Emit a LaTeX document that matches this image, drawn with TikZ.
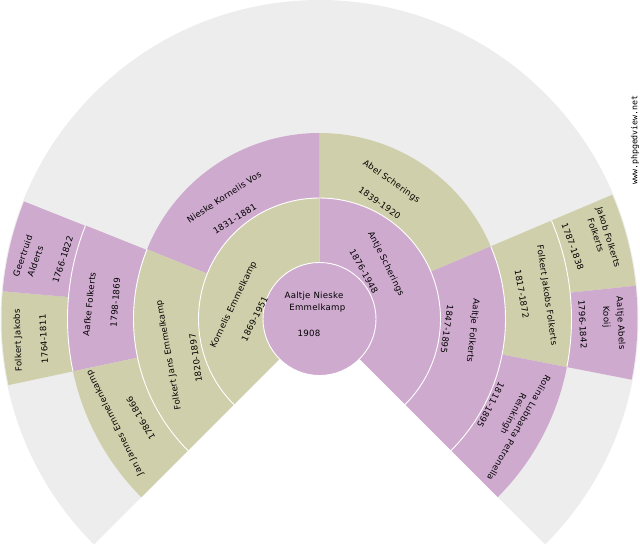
\documentclass[tikz,border=0pt]{standalone}
\usepackage{fontspec}
\setmainfont[LetterSpace=3]{DejaVu Sans}
\setmonofont{DejaVu Sans Mono}
\definecolor{pur}{HTML}{CFAACF}
\definecolor{oli}{HTML}{D0CFAB}
\definecolor{gry}{HTML}{EDEDED}
\tikzset{
  lab/.style={inner sep=0pt,outer sep=0pt,text=black,font=\fontsize{8.6}{10}\selectfont},
  sep/.style={draw=white,line width=0.9pt},
}
\newcommand{\sect}[5]{\fill[#1] ([shift={(#4:#3)}]319.5,231) arc (#4:#5:#3) -- ([shift={(#5:#2)}]319.5,231) arc (#5:#4:#2) -- cycle;}
\newcommand{\sep}[3]{\draw[sep] ([shift={(#2:#1)}]319.5,231) arc (#2:#3:#1);}
\newcommand{\tx}[5]{\node[lab,rotate=#4] (#1) at (#2,{550-#3}) {#5};}
\begin{document}
\begin{tikzpicture}[x=1pt,y=1pt]
\useasboundingbox (0,0) rectangle (640,550);
\fill[gry] (319.5,231) -- ([shift={(225:319)}]319.5,231) arc (225:-45:319) -- cycle;
% ring 4
\sect{oli}{252}{318}{6}{23}
\sect{pur}{252}{318}{-11}{6}
\sect{oli}{252}{318}{175}{192}
\sect{pur}{252}{318}{158.3}{175}
% ring 3
\sect{oli}{186}{252}{-11}{23}
\sect{pur}{186}{252}{-45}{-11}
\sect{pur}{186}{252}{158.2}{192}
\sect{oli}{186}{252}{192}{225}
% ring 2
\sect{oli}{121}{186}{23}{90}
\sect{pur}{121}{186}{-45}{23}
\sect{pur}{121}{186}{90}{158}
\sect{oli}{121}{186}{158}{225}
% ring 1
\sect{pur}{56}{121}{-45}{90}
\sect{oli}{56}{121}{90}{225}
% separators
\sep{252}{-11}{23}
\sep{252}{158.2}{192}
\sep{186}{-45}{23}
\sep{186}{158}{225}
\sep{121}{-45}{225}
\fill[pur,draw=white,line width=0.9pt] (319.5,231) circle[radius=56.5];
% labels
\tx{c1}{314}{296}{0}{Aaltje Nieske}
\tx{c2}{317.3}{307.7}{0}{Emmelkamp}
\tx{c3}{309}{333}{0}{1908}
\tx{a1}{385.8}{263.7}{-63.6}{Antje Scherings}
\tx{a2}{363.8}{271.7}{-61}{1876-1948}
\tx{k1}{233.8}{304.7}{64}{Kornelis Emmelkamp}
\tx{k2}{254.7}{318.7}{63.7}{1869-1951}
\tx{n1}{224}{197}{33.5}{Nieske Kornelis Vos}
\tx{n2}{234.7}{219}{31.6}{1831-1881}
\tx{s1}{391.3}{181.7}{-35}{Abel Scherings}
\tx{s2}{379.7}{203}{-35}{1839-1920}
\tx{f1}{169}{355}{100}{Folkert Jans Emmelkamp}
\tx{f2}{195.7}{358}{98}{1820-1897}
\tx{af1}{89.3}{304.2}{84}{Aafke Folkerts}
\tx{af2}{115.3}{302.5}{85.5}{1798-1869}
\tx{j1}{115}{423}{116.4}{Jan Jannes Emmelenkamp}
\tx{j2}{140.8}{418.3}{120}{1786-1866}
\tx{fj1}{18.3}{340.5}{92}{Folkert Jakobs}
\tx{fj2}{43.7}{339}{93}{1764-1811}
\tx{g1}{22.7}{256}{71}{Geertruid}
\tx{g2}{35.3}{261.3}{70}{Alderts}
\tx{g3}{62.8}{259.7}{72}{1766-1822}
\tx{jk1}{608}{237.3}{-72.6}{Jakob Folkerts}
\tx{jk2}{596}{235.3}{-72}{Folkerts}
\tx{jk3}{572.7}{246.7}{-70}{1787-1838}
\tx{ab1}{620.3}{323.3}{-87}{Aaltje Abels}
\tx{ab2}{606}{317}{-87}{Kooij}
\tx{ab3}{582.7}{324.3}{-87}{1796-1842}
\tx{fk1}{546.7}{295.3}{-81.7}{Folkert Jakobs Folkerts}
\tx{fk2}{522}{294}{-80}{1817-1872}
\tx{af3}{472.7}{330.7}{-96}{Aaltje Folkerts}
\tx{af4}{447}{329.3}{-98}{1847-1895}
\tx{r1}{519}{428}{-119.6}{Rolina Lubbarta Petronella}
\tx{r2}{513}{413.7}{-117.7}{Reinkingh}
\tx{r3}{490.7}{405}{-117.5}{1811-1895}
\tx{www}{635}{140}{90}{\ttfamily\fontsize{8.3}{9}\selectfont www.phpgedview.net}
\end{tikzpicture}
\end{document}
